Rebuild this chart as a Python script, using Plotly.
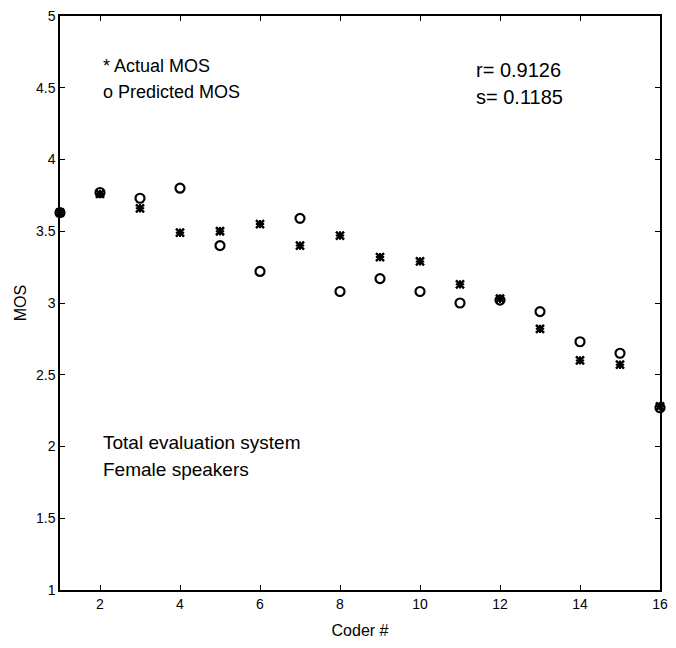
import plotly.graph_objects as go

coders = list(range(1, 17))
actual_mos = [3.63, 3.76, 3.66, 3.49, 3.50, 3.55, 3.40, 3.47, 3.32, 3.29, 3.13, 3.03, 2.82, 2.60, 2.57, 2.28]
predicted_mos = [3.63, 3.77, 3.73, 3.80, 3.40, 3.22, 3.59, 3.08, 3.17, 3.08, 3.00, 3.02, 2.94, 2.73, 2.65, 2.27]
x_ticks = [2, 4, 6, 8, 10, 12, 14, 16]
y_ticks = [1, 1.5, 2, 2.5, 3, 3.5, 4, 4.5, 5]
y_tick_text = ["1", "1.5", "2", "2.5", "3", "3.5", "4", "4.5", "5"]

FONT = "Liberation Sans, Arial, sans-serif"

fig = go.Figure()
fig.add_trace(go.Scatter(
    x=coders, y=predicted_mos, mode="markers", name="Predicted MOS",
    marker=dict(symbol="circle-open", size=9, color="black", line=dict(width=2.2, color="black")),
    cliponaxis=False,
))
fig.add_trace(go.Scatter(
    x=coders, y=actual_mos, mode="markers", name="Actual MOS",
    marker=dict(symbol="x-thin-open", size=8, color="black", line=dict(width=2.5, color="black")),
    cliponaxis=False,
))
fig.add_trace(go.Scatter(
    x=coders, y=actual_mos, mode="markers", showlegend=False,
    marker=dict(symbol="cross-thin-open", size=6, color="black", line=dict(width=2, color="black")),
    cliponaxis=False,
))

axis_common = dict(
    showline=True, linecolor="black", linewidth=1.5, mirror="ticks",
    ticks="inside", ticklen=5, tickwidth=1.2, tickcolor="black",
    showgrid=False, zeroline=False,
    tickfont=dict(family=FONT, size=14, color="black"),
)

fig.update_layout(
    width=676, height=648,
    margin=dict(l=60, r=8, t=14, b=58),
    paper_bgcolor="white", plot_bgcolor="white",
    showlegend=False,
    font=dict(family=FONT, color="black"),
    xaxis=dict(range=[1, 16], tickvals=x_ticks,
               title=dict(text="Coder #", font=dict(family=FONT, size=16), standoff=14),
               **axis_common),
    yaxis=dict(range=[1, 5], tickvals=y_ticks, ticktext=y_tick_text,
               title=dict(text="MOS", font=dict(family=FONT, size=16), standoff=5),
               **axis_common),
)

annots = [
    ("* Actual MOS", 102, 64, 18),
    ("o Predicted MOS", 102, 90, 18),
    ("r= 0.9126", 480, 68, 20),
    ("s= 0.1185", 480, 95, 20),
    ("Total evaluation system", 102, 442, 19),
    ("Female speakers", 102, 469, 19),
]
for text, px, py, fs in annots:
    fig.add_annotation(
        text=text, xref="paper", yref="paper",
        x=(px - 60) / 608, y=1 - (py - 14) / 576,
        xanchor="left", yanchor="middle", showarrow=False,
        font=dict(family=FONT, size=fs, color="black"),
    )

fig.write_html("out.html")
